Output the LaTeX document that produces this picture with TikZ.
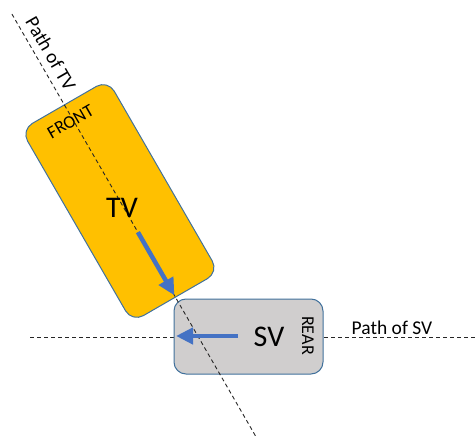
\documentclass[tikz,border=0pt]{standalone}
\usepackage{fontspec}
\setmainfont{Carlito}
\usetikzlibrary{arrows.meta}
\definecolor{tvfill}{HTML}{FFC000}
\definecolor{svfill}{HTML}{D0CECE}
\definecolor{boxline}{HTML}{41719C}
\definecolor{arrowblue}{HTML}{4472C4}
\begin{document}
\begin{tikzpicture}[x=1pt,y=-1pt,
  vehbox/.style={draw=boxline, line width=1pt, rounded corners=13pt, inner sep=0pt},
  pathline/.style={draw=black!85, line width=0.9pt, dash pattern=on 4pt off 3pt},
  movearrow/.style={draw=arrowblue, line width=4.5pt, -{Triangle[length=17pt,width=16pt]}},
  lbl/.style={font=\fontsize{18}{18}\selectfont, inner sep=0pt},
  plbl/.style={font=\fontsize{19.5}{19.5}\selectfont, inner sep=0pt},
  big/.style={font=\fontsize{30}{30}\selectfont, inner sep=0pt}]
\useasboundingbox (0,0) rectangle (476,438);
% horizontal path (behind SV)
\coordinate (hs) at (30,337);
\coordinate (he) at (476,337);
\draw[pathline] (hs) -- (he);
% TV box
\node[vehbox, fill=tvfill, rotate=-60, minimum width=222pt, minimum height=100pt] (tv) at (119.9,201) {};
% SV box
\node[vehbox, fill=svfill, rounded corners=12pt, minimum width=149pt, minimum height=75pt] (sv) at (248.5,336.5) {};
% TV path
\coordinate (ts) at (11.9,14);
\coordinate (te) at (256.7,438);
\draw[pathline] (ts) -- (te);
% arrows
\coordinate (tva) at (137.9,232.2);
\coordinate (tvb) at (174.4,295.4);
\draw[movearrow] (tva) -- (tvb);
\coordinate (sva) at (238,336);
\coordinate (svb) at (176,336);
\draw[movearrow] (sva) -- (svb);
% labels
\node[big] (tvl) at (122,208) {TV};
\node[big] (svl) at (269,337) {SV};
\node[lbl, rotate=30] (front) at (70.5,121.5) {FRONT};
\node[lbl, rotate=-90] (rear) at (308,335.5) {REAR};
\node[plbl, rotate=-60] (ptv) at (51,53.6) {Path of TV};
\node[plbl, anchor=base] (psv) at (392,334.5) {Path of SV};
\end{tikzpicture}
\end{document}
